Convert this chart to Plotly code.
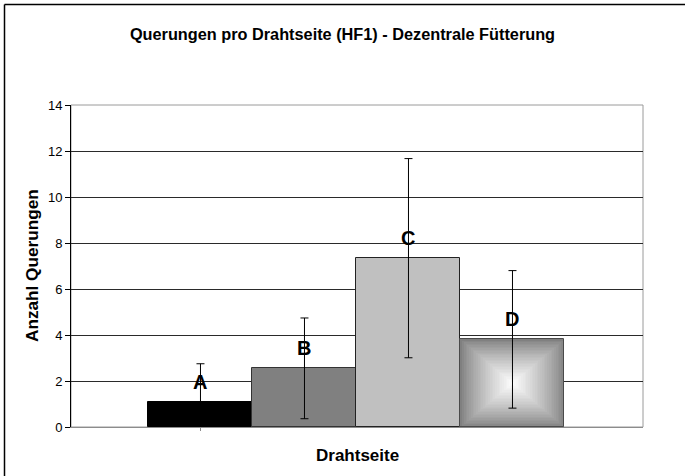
import plotly.graph_objects as go

# ---- data ----
categories = ["A", "B", "C", "D"]
values = [1.09, 2.55, 7.34, 3.81]
errors = [1.66, 2.19, 4.33, 2.99]
y_ticks = [0, 2, 4, 6, 8, 10, 12, 14]
title_text = "Querungen pro Drahtseite (HF1) - Dezentrale Fütterung"
x_title = "Drahtseite"
y_title = "Anzahl Querungen"

# ---- layout geometry (pixels) ----
W, H = 685, 476
ML, MR, MT, MB = 71, 42, 105, 49
PW, PH = W - ML - MR, H - MT - MB

FONT = "Arial, Liberation Sans, sans-serif"

fig = go.Figure()

# gradient fill for bar D (rectangular "from centre" gradient) as nested bars
d_idx = categories.index("D")
n_layers = 30
for i in range(n_layers):
    t = i / n_layers
    g = int(round(128 + (255 - 128) * (t ** 0.8)))
    v = values[d_idx]
    fig.add_trace(go.Bar(
        x=[categories[d_idx]], y=[v * (1 - t)], base=[v * t / 2],
        width=[1 - t], marker=dict(color=f"rgb({g},{g},{g})", line=dict(width=0)),
        hoverinfo="skip", showlegend=False,
    ))

fill_colors = ["#000000", "#808080", "#c0c0c0", "rgba(0,0,0,0)"]
line_colors = ["#000000", "#333333", "#222222", "#4a4a4a"]
fig.add_trace(go.Bar(
    x=categories, y=values, width=[1, 1, 1, 1],
    marker=dict(color=fill_colors, line=dict(color=line_colors, width=1)),
    error_y=dict(type="data", array=errors, visible=True, color="#000000",
                 thickness=1, width=4),
    showlegend=False,
))

annotations = []
for c, v in zip(categories, values):
    annotations.append(dict(x=c, y=v, xref="x", yref="y", text=f"<b>{c}</b>",
                            showarrow=False, yshift=20, yanchor="middle",
                            font=dict(family=FONT, size=20, color="#000000")))

annotations.append(dict(xref="paper", yref="paper", x=0.5, y=(427 - 455) / PH,
                        text=f"<b>{x_title}</b>", showarrow=False, yanchor="middle",
                        xanchor="center", font=dict(family=FONT, size=17, color="#000")))
annotations.append(dict(xref="paper", yref="paper", x=(32 - ML) / PW, y=0.5,
                        text=f"<b>{y_title}</b>", showarrow=False, textangle=-90,
                        xanchor="center", yanchor="middle",
                        font=dict(family=FONT, size=17.2, color="#000")))

shapes = [
    # plot area border (top/right grey)
    dict(type="rect", xref="paper", yref="paper", x0=0, x1=1, y0=0, y1=1,
         line=dict(color="#9a9a9a", width=1), layer="below"),
    # outer chart border (left and top visible)
    dict(type="line", xref="paper", yref="paper",
         x0=(4.5 - ML) / PW, x1=(4.5 - ML) / PW, y0=(427 - 490) / PH, y1=(427 - 4.5) / PH,
         line=dict(color="#000", width=1.5)),
    dict(type="line", xref="paper", yref="paper",
         x0=(4.5 - ML) / PW, x1=(700 - ML) / PW, y0=(427 - 4.5) / PH, y1=(427 - 4.5) / PH,
         line=dict(color="#000", width=1.5)),
]

fig.update_layout(
    width=W, height=H,
    margin=dict(l=ML, r=MR, t=MT, b=MB, autoexpand=False),
    paper_bgcolor="white", plot_bgcolor="white",
    barmode="overlay", bargap=0,
    title=dict(text=f"<b>{title_text}</b>", x=0.5, xanchor="center",
               y=1 - 34 / H, yanchor="middle", yref="container",
               font=dict(family=FONT, size=16.3, color="#000")),
    font=dict(family=FONT, color="#000"),
    annotations=annotations,
    shapes=shapes,
)

fig.update_xaxes(
    type="category", categoryorder="array", categoryarray=categories,
    range=[-1.245, 4.255],
    showgrid=False, zeroline=False,
    showline=True, linecolor="#8c8c8c", linewidth=1,
    tickmode="array", tickvals=["A"], ticktext=[""],
    ticks="outside", ticklen=3, tickcolor="#8c8c8c",
)
fig.update_yaxes(
    range=[0, 14], tickvals=y_ticks, ticktext=[str(t) for t in y_ticks],
    showgrid=True, gridcolor="#2a2a2a", gridwidth=1,
    zeroline=False,
    showline=True, linecolor="#000000", linewidth=1,
    ticks="outside", ticklen=5, tickcolor="#000000",
    tickfont=dict(family=FONT, size=13, color="#000"),
)

fig.write_html("out.html",
               config={"displayModeBar": False},
               post_script="document.body.style.margin='0';document.body.style.overflow='hidden';")
